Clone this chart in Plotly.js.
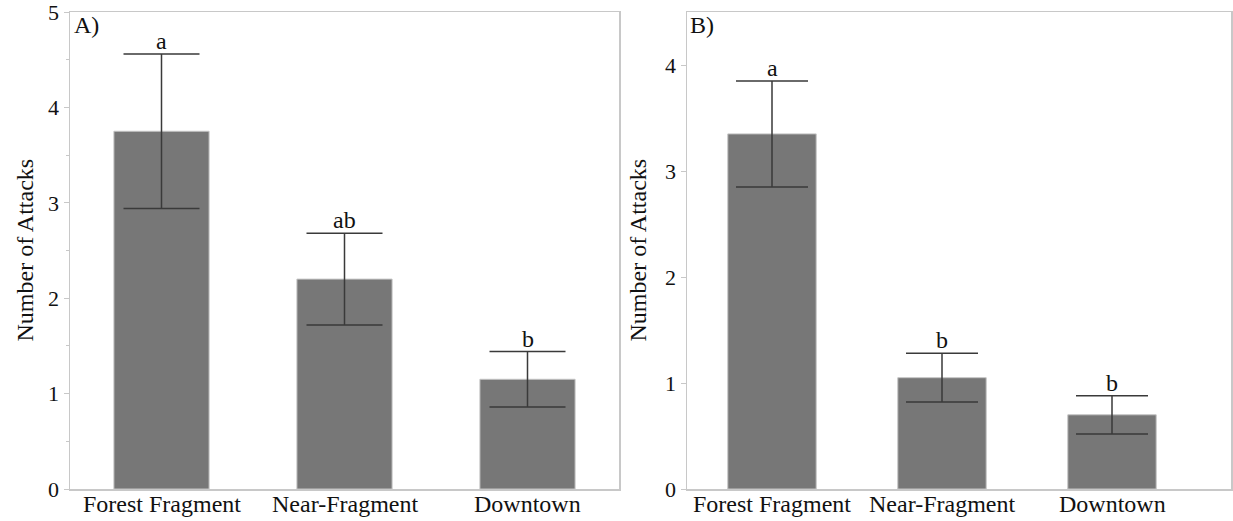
<!DOCTYPE html>
<html>
<head>
<meta charset="utf-8">
<script src="https://cdn.plot.ly/plotly-3.0.1.min.js"></script>
<style>html,body{margin:0;padding:0;background:#fff;}#chart{width:1233px;height:521px;}</style>
</head>
<body>
<div id="chart"></div>
<script>
const categories = ['Forest Fragment', 'Near-Fragment', 'Downtown'];
const attacksA = [3.75, 2.2, 1.15];
const errorA = [0.81, 0.48, 0.29];
const lettersA = ['a', 'ab', 'b'];
const attacksB = [3.35, 1.05, 0.70];
const errorB = [0.50, 0.23, 0.18];
const lettersB = ['a', 'b', 'b'];
const yTicksA = [0, 1, 2, 3, 4, 5];
const yTicksB = [0, 1, 2, 3, 4];
const panelLabels = ['A)', 'B)'];
const yTitle = 'Number of Attacks';

const FONT = 'Liberation Serif, Times New Roman, serif';
const barColor = '#777777';
const errColor = '#3a3a3a';
const axisColor = '#c8c8c8';

function barTrace(vals, errs, xa, ya, capw) {
  return {
    type: 'bar', x: categories, y: vals, xaxis: xa, yaxis: ya,
    marker: {color: barColor, line: {color: '#c4c4c4', width: 1}},
    error_y: {type: 'data', array: errs, visible: true, color: errColor, thickness: 1.5, width: capw},
    hoverinfo: 'skip', showlegend: false
  };
}

const traces = [
  barTrace(attacksA, errorA, 'x', 'y', 38),
  barTrace(attacksB, errorB, 'x2', 'y2', 36)
];

const txt = (size) => ({family: FONT, size: size, color: '#111'});
const annotations = [];
categories.forEach((c, i) => {
  annotations.push({x: c, y: attacksA[i] + errorA[i], xref: 'x', yref: 'y', text: lettersA[i],
    showarrow: false, yanchor: 'bottom', yshift: -2, font: txt(24)});
  annotations.push({x: c, y: attacksB[i] + errorB[i], xref: 'x2', yref: 'y2', text: lettersB[i],
    showarrow: false, yanchor: 'bottom', yshift: -2, font: txt(24)});
  annotations.push({x: c, y: 0, xref: 'x', yref: 'paper', text: c, showarrow: false,
    yanchor: 'top', xanchor: 'center', yshift: 0, font: txt(24)});
  annotations.push({x: c, y: 0, xref: 'x2', yref: 'paper', text: c, showarrow: false,
    yanchor: 'top', xanchor: 'center', yshift: 0, font: txt(24)});
});
annotations.push({x: 72/1233, y: 1, xref: 'paper', yref: 'paper', text: panelLabels[0], showarrow: false,
  xanchor: 'left', yanchor: 'top', yshift: 2, font: txt(24)});
annotations.push({x: 688/1233, y: 1, xref: 'paper', yref: 'paper', text: panelLabels[1], showarrow: false,
  xanchor: 'left', yanchor: 'top', yshift: 2, font: txt(24)});
annotations.push({x: 24/1233, y: 0.5, xref: 'paper', yref: 'paper', text: yTitle, showarrow: false,
  xanchor: 'center', yanchor: 'middle', textangle: -90, font: txt(24)});
annotations.push({x: 637/1233, y: 0.5, xref: 'paper', yref: 'paper', text: yTitle, showarrow: false,
  xanchor: 'center', yanchor: 'middle', textangle: -90, font: txt(24)});

function xAxis(domain, range) {
  return {domain: domain, range: range, type: 'category', showline: true, mirror: true, linecolor: axisColor,
    linewidth: 1.5, ticks: '', showticklabels: false, showgrid: false, zeroline: false, fixedrange: true};
}
function yAxis(range, tickvals, anchor, minor) {
  const ax = {range: range, tickvals: tickvals, ticktext: tickvals.map(String), anchor: anchor,
    showline: true, mirror: true, linecolor: axisColor, linewidth: 1.5,
    ticks: 'outside', ticklen: 5, tickcolor: axisColor, tickwidth: 1,
    ticklabeloverflow: 'allow',
    showgrid: false, zeroline: false, fixedrange: true,
    tickfont: txt(22)};
  if (minor) ax.minor = {dtick: 0.5, ticks: 'outside', ticklen: 3, tickcolor: axisColor, showgrid: false};
  return ax;
}

const layout = {
  width: 1233, height: 521,
  margin: {l: 0, r: 0, t: 12, b: 32},
  paper_bgcolor: '#fff', plot_bgcolor: '#fff',
  bargap: 0.48,
  xaxis: xAxis([70/1233, 619/1233], [-0.5, 2.5]),
  yaxis: yAxis([0, 5], yTicksA, 'x', true),
  xaxis2: xAxis([687/1233, 1231/1233], [-0.5, 2.7]),
  yaxis2: yAxis([0, 4.5], yTicksB, 'x2', false),
  annotations: annotations,
  font: {family: FONT}
};

Plotly.newPlot('chart', traces, layout, {displayModeBar: false, staticPlot: true});
</script>
</body>
</html>
